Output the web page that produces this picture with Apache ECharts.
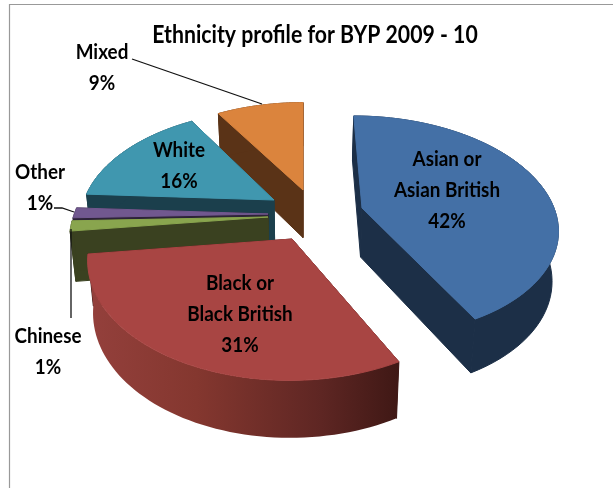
<!DOCTYPE html>
<html><head><meta charset="utf-8">
<style>html,body{margin:0;padding:0;background:#fff}#c{width:613px;height:488px}</style>
<script src="https://cdn.jsdelivr.net/npm/echarts@6/dist/echarts.min.js"></script>
</head><body><div id="c"></div>
<script>
// ---- data ----
const categories = ['Asian or\nAsian British','Black or\nBlack British','Chinese','Other','White','Mixed'];
const shares = [42.4, 30.6, 1.45, 1.45, 15.5, 8.6];
const titleText = 'Ethnicity profile for BYP 2009 - 10';

// ---- styles and layout ----
const faceColors = ['#4470A6','#A84543','#89A54E','#71588F','#4097AF','#DB843D'];
const wallColors = ['#1C2F47','#7A3330','#3A4120','#2D2338','#1B3F4C','#5A3317'];
const apexes = [[362,208],[292,239],[268,217],[268,214],[274,200],[303,190]];   // exploded offset of each slice
const labelAt = [[447,190],[240,314],[48,351.5],[40,188],[179,166],[102,68]];
const leaders = [null,null,[[71,229],[71,318]],[[54,208],[62,208],[74,212]],null,[[132,59],[262,104]]];
const paintOrder = [5,4,3,2,1,0];
const centreX = 303, horizonY = -450, baseRx = 192, baseRy = 107, baseDepth = 49, bottomShrink = 0.975;
const labelFont = 'bold 20.5px Lato', labelSqueeze = 0.92, titleFont = 'bold 24.5px Lato', titleSqueeze = 0.867;

const total = shares.reduce((a,b)=>a+b,0);
const starts = []; shares.reduce((a,v,i)=>{starts[i]=a;return a+v/total*Math.PI*2;},0);

function projector(i){
  const [ax,ay] = apexes[i];
  const m = (ay-horizonY)/658, Rx = baseRx*m, Ry = baseRy*m*m, k = Ry/(ay-horizonY);
  const depthAt = s => baseDepth*m*Math.pow(s,0.6);
  const top = (u,v,r) => {
    const s = 1/(1-k*v*r);
    return {x:centreX+(ax-centreX+Rx*u*r)*s, y:ay+Ry*v*r*s, s};
  };
  return (th,r,low) => {
    const p = top(Math.sin(th),-Math.cos(th),r);
    if(!low) return [p.x,p.y];
    return [centreX+(p.x-centreX)*bottomShrink, p.y+depthAt(p.s)];
  };
}

function renderSlice(params, api){
  const i = api.value(0), val = api.value(1);
  const a0 = starts[i], a1 = a0+val/total*Math.PI*2;
  const P = projector(i), n = 60;
  const arc = low => { const o=[]; for(let j=0;j<=n;j++) o.push(P(a0+(a1-a0)*j/n,1,low)); return o; };
  const topArc = arc(false), lowArc = arc(true);
  const apex = P(0,0,false), apexLow = P(0,0,true);
  const poly = (pts,fill,stroke) => ({type:'polygon',shape:{points:pts},style:{fill,stroke:stroke||null,lineWidth:1,lineJoin:'round'}});
  const wallFill = i===1 ? new echarts.graphic.LinearGradient(0,0,1,0,[
      {offset:0,color:'#94403C'},{offset:0.35,color:'#84372F'},{offset:0.75,color:'#5E2623'},{offset:1,color:'#3F1815'}]) : wallColors[i];
  const sideWall = i===1 ? '#3F1815' : wallColors[i];
  const children = [
    poly([apex,topArc[0],lowArc[0],apexLow],sideWall,sideWall),
    poly([apex,topArc[n],lowArc[n],apexLow],sideWall,sideWall),
    poly(topArc.concat(lowArc.slice().reverse()),wallFill,i===1?null:sideWall),
    poly([apex].concat(topArc),faceColors[i],faceColors[i])
  ];
  return {type:'group',children};
}

function renderLabel(params, api){
  const i = api.value(0), val = api.value(1);
  const text = categories[i]+'\n'+Math.round(val/total*100)+'%';
  const children = [{type:'text',x:labelAt[i][0],y:labelAt[i][1],scaleX:labelSqueeze,
    style:{text,fill:'#000',font:labelFont,align:'center',verticalAlign:'middle',lineHeight:31}}];
  if(leaders[i]) children.push({type:'polyline',shape:{points:leaders[i]},style:{fill:null,stroke:'#111',lineWidth:1.3}});
  return {type:'group',children};
}

const ordered = paintOrder.map(i=>[i,shares[i]]);
const chart = echarts.init(document.getElementById('c'),null,{renderer:'canvas'});
chart.setOption({
  animation:false,
  backgroundColor:'#fff',
  graphic:[
    {type:'rect',shape:{x:9.5,y:4.5,width:700,height:600},style:{fill:null,stroke:'#999',lineWidth:1.2},silent:true},
    {type:'text',x:315,y:35,scaleX:titleSqueeze,silent:true,
      style:{text:titleText,fill:'#000',font:titleFont,align:'center',verticalAlign:'middle'}}
  ],
  xAxis:{show:false,min:0,max:1},yAxis:{show:false,min:0,max:1},
  grid:{left:0,right:0,top:0,bottom:0},
  series:[
    {type:'custom',coordinateSystem:'none',data:ordered,renderItem:renderSlice,silent:true,clip:false,z:2},
    {type:'custom',coordinateSystem:'none',data:ordered,renderItem:renderLabel,silent:true,clip:false,z:3}
  ]
});
</script></body></html>
